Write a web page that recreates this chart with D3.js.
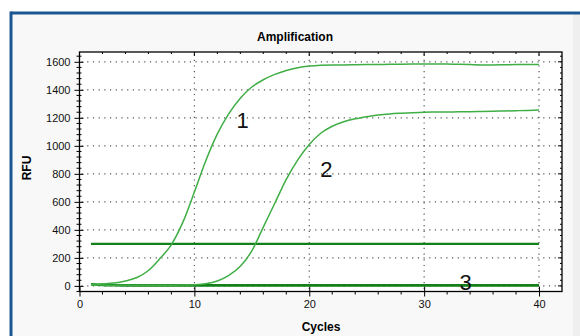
<!DOCTYPE html>
<html>
<head>
<meta charset="utf-8">
<script src="https://cdnjs.cloudflare.com/ajax/libs/d3/7.8.5/d3.min.js"></script>
<style>
  html, body { margin: 0; padding: 0; background: #ffffff; }
  svg { display: block; font-family: 'Liberation Sans', Arial, sans-serif; }
</style>
</head>
<body>
<script>
const cycles = [1, 2, 3, 4, 5, 6, 7, 8, 9, 10, 11, 12, 13, 14, 15, 16, 17, 18, 19, 20,
                21, 22, 23, 24, 25, 26, 27, 28, 29, 30, 31, 32, 33, 34, 35, 36, 37, 38, 39, 40];
const rfu1 = [10, 14, 20, 35, 60, 110, 195, 295, 455, 670, 895, 1085, 1230, 1340, 1420, 1472, 1510, 1538, 1558, 1570,
              1576, 1578, 1578, 1579, 1580, 1581, 1582, 1583, 1584, 1585, 1585, 1584, 1582, 1580, 1578, 1578, 1579, 1580, 1580, 1580];
const rfu2 = [6, 6, 5, 5, 5, 5, 5, 5, 6, 8, 15, 35, 75, 140, 250, 420, 590, 760, 900, 1010,
              1090, 1140, 1172, 1193, 1208, 1220, 1228, 1233, 1237, 1240, 1241, 1242, 1243, 1244, 1245, 1247, 1249, 1251, 1253, 1256];
const rfu3 = [12, 7, 5, 4, 4, 4, 4, 4, 4, 4, 4, 4, 4, 4, 4, 4, 4, 4, 4, 4,
              4, 4, 4, 4, 4, 4, 4, 4, 4, 4, 4, 4, 4, 4, 4, 4, 4, 4, 4, 4];
const thresholdCycles = [1, 40];
const thresholdRFU = 300;
const xTicks = [0, 10, 20, 30, 40];
const yTicks = [0, 200, 400, 600, 800, 1000, 1200, 1400, 1600];
const curveLabels = ['1', '2', '3'];
const labelCycles = [14.2, 21.5, 33.6];
const labelRFU = [1126, 776, -29];

document.addEventListener('DOMContentLoaded', () => {
    const width = 580;
    const height = 336;
    const left = 79.5, right = 562, top = 52, bottom = 291.5;

    const xScale = d3.scaleLinear().domain([0, 42]).range([left, right]);
    const yScale = d3.scaleLinear().domain([-40, 1670]).range([bottom, top]);

    const svg = d3.select('body').append('svg')
                  .attr('width', width)
                  .attr('height', height);

    // window frame
    svg.append('rect')
       .attr('x', 11).attr('y', 13)
       .attr('width', width).attr('height', height)
       .attr('fill', '#f8f8f8');
    svg.append('rect')
       .attr('x', 573).attr('y', 14)
       .attr('width', 7).attr('height', height)
       .attr('fill', '#efefef');
    svg.append('line')
       .attr('x1', 11).attr('x2', width).attr('y1', 13).attr('y2', 13)
       .attr('stroke', '#1d5791').attr('stroke-width', 3);
    svg.append('line')
       .attr('x1', 11).attr('x2', 11).attr('y1', 11.5).attr('y2', height)
       .attr('stroke', '#1d5791').attr('stroke-width', 3);

    // plot area
    svg.append('rect')
       .attr('x', left).attr('y', top)
       .attr('width', right - left).attr('height', bottom - top)
       .attr('fill', '#ffffff');

    const grid = svg.append('g').attr('stroke', '#555').attr('stroke-width', 1.2).attr('stroke-dasharray', '1.2,4.5');
    grid.selectAll('.hgrid')
        .data(yTicks)
        .enter().append('line')
        .attr('x1', left + 2).attr('x2', right)
        .attr('y1', d => yScale(d)).attr('y2', d => yScale(d));
    grid.selectAll('.vgrid')
        .data(xTicks.slice(1))
        .enter().append('line')
        .attr('x1', d => xScale(d)).attr('x2', d => xScale(d))
        .attr('y1', top + 2).attr('y2', bottom);

    // axes
    const xAxis = d3.axisBottom(xScale).tickValues(xTicks).tickFormat(d3.format('d')).tickSize(5).tickSizeOuter(0);
    const yAxis = d3.axisLeft(yScale).tickValues(yTicks).tickFormat(d3.format('d')).tickSize(5).tickSizeOuter(0);

    const gx = svg.append('g')
       .attr('transform', `translate(0, ${bottom})`)
       .call(xAxis);
    gx.selectAll('.tick line').attr('y1', -5).attr('y2', 5);
    gx.selectAll('.tick text').attr('y', 9).attr('font-size', 11).attr('fill', '#111');
    gx.select('.domain').remove();

    const gy = svg.append('g')
       .attr('transform', `translate(${left}, 0)`)
       .call(yAxis);
    gy.selectAll('.tick line').attr('x1', -5).attr('x2', 4);
    gy.selectAll('.tick text').attr('x', -9).attr('font-size', 11).attr('fill', '#111');
    gy.select('.domain').remove();

    // minor ticks
    const minorX = d3.range(2, 42, 2).filter(d => d % 10 !== 0);
    const minorY = d3.range(-40, 1660, 40).filter(d => d % 200 !== 0);
    svg.append('g').selectAll('line')
       .data(minorX).enter().append('line')
       .attr('x1', d => xScale(d)).attr('x2', d => xScale(d))
       .attr('y1', bottom).attr('y2', bottom + 3)
       .attr('stroke', '#000');
    svg.append('g').selectAll('line')
       .data(minorX.concat(xTicks)).enter().append('line')
       .attr('x1', d => xScale(d)).attr('x2', d => xScale(d))
       .attr('y1', top).attr('y2', d => top + (d % 10 === 0 ? 4 : 2))
       .attr('stroke', '#000');
    svg.append('g').selectAll('line')
       .data(minorY).enter().append('line')
       .attr('x1', left - 3).attr('x2', left + 2)
       .attr('y1', d => yScale(d)).attr('y2', d => yScale(d))
       .attr('stroke', '#000');
    svg.append('g').selectAll('line')
       .data(yTicks.concat(minorY)).enter().append('line')
       .attr('x1', d => right - (d % 200 === 0 ? 4 : 2)).attr('x2', right)
       .attr('y1', d => yScale(d)).attr('y2', d => yScale(d))
       .attr('stroke', '#000');

    svg.append('rect')
       .attr('x', left).attr('y', top)
       .attr('width', right - left).attr('height', bottom - top)
       .attr('fill', 'none').attr('stroke', '#000').attr('stroke-width', 1.3);

    // series
    const line = d3.line()
                   .x(d => xScale(d[0]))
                   .y(d => yScale(d[1]))
                   .curve(d3.curveMonotoneX);

    svg.append('path')
       .attr('d', line(cycles.map((c, i) => [c, rfu3[i]])))
       .attr('fill', 'none').attr('stroke', '#13801a').attr('stroke-width', 2.6);
    svg.append('path')
       .attr('d', line(thresholdCycles.map(c => [c, thresholdRFU])))
       .attr('fill', 'none').attr('stroke', '#13801a').attr('stroke-width', 2.4);
    svg.append('path')
       .attr('d', line(cycles.map((c, i) => [c, rfu2[i]])))
       .attr('fill', 'none').attr('stroke', '#3fae45').attr('stroke-width', 1.5);
    svg.append('path')
       .attr('d', line(cycles.map((c, i) => [c, rfu1[i]])))
       .attr('fill', 'none').attr('stroke', '#3fae45').attr('stroke-width', 1.5);

    svg.selectAll('.curve-label')
       .data(curveLabels)
       .enter().append('text')
       .attr('x', (d, i) => xScale(labelCycles[i]))
       .attr('y', (d, i) => yScale(labelRFU[i]))
       .attr('text-anchor', 'middle')
       .attr('font-size', 22)
       .attr('fill', '#111')
       .text(d => d);

    // titles
    svg.append('text')
       .attr('x', 295).attr('y', 41)
       .attr('text-anchor', 'middle')
       .attr('font-size', 12).attr('font-weight', 'bold')
       .text('Amplification');
    svg.append('text')
       .attr('x', 321).attr('y', 331)
       .attr('text-anchor', 'middle')
       .attr('font-size', 12).attr('font-weight', 'bold')
       .text('Cycles');
    svg.append('text')
       .attr('transform', 'translate(31, 168) rotate(-90)')
       .attr('text-anchor', 'middle')
       .attr('font-size', 12).attr('font-weight', 'bold')
       .text('RFU');
});
</script>
</body>
</html>
